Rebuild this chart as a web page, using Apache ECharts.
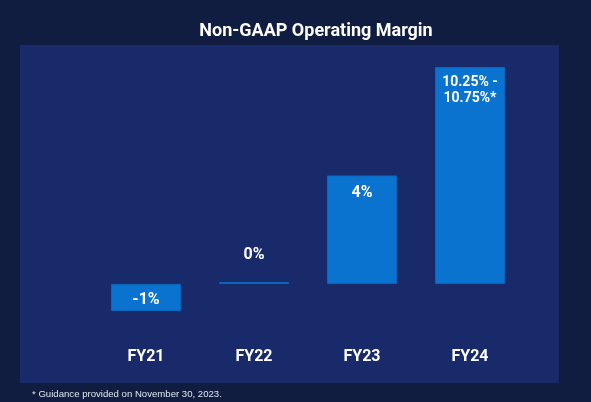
<!DOCTYPE html>
<html><head><meta charset="utf-8">
<script src="https://cdn.jsdelivr.net/npm/echarts@6/dist/echarts.min.js"></script>
<style>html,body{margin:0;padding:0;background:#101c40;}#c{width:591px;height:402px;}</style>
</head><body><div id="c"></div>
<script>
const categories = ['FY21', 'FY22', 'FY23', 'FY24'];
const values = [-1, 0.07, 4, 8];
const labels = ['-1%', '0%', '4%', '10.25% -\n10.75%*'];
const labelPositions = ['inside', 'top', 'insideTop', 'insideTop'];
const yMin = -1, yMax = 8;

const chart = echarts.init(document.getElementById('c'));
const data = values.map((v, i) => ({
  value: v,
  label: {
    show: true,
    position: labelPositions[i],
    formatter: labels[i],
    fontSize: i === 3 ? 14 : 16,
    lineHeight: 16,
    offset: i === 0 ? [0, 3] : [0, 0],
    distance: i === 1 ? 19 : (i === 3 ? 7 : 10)
  }
}));
chart.setOption({
  backgroundColor: '#101c40',
  animation: false,
  title: {
    text: 'Non-GAAP Operating Margin',
    left: 311, textAlign: 'center', top: 17,
    textStyle: { color: '#ffffff', fontSize: 18, fontWeight: 'bold', fontFamily: 'Roboto' }
  },
  graphic: [
    { type: 'rect', z: -10, shape: { x: 20, y: 45, width: 539, height: 338 }, style: { fill: '#182a69' } },
    { type: 'text', left: 32, top: 389, style: { text: '* Guidance provided on November 30, 2023.', fill: '#dfe5f0', font: '9.6px "Liberation Sans", Arial' } }
  ],
  grid: { left: 92, right: 67, top: 67, bottom: 91 },
  xAxis: {
    type: 'category', data: categories,
    axisLine: { show: false }, axisTick: { show: false },
    axisLabel: { color: '#ffffff', fontSize: 16, fontWeight: 'bold', fontFamily: 'Roboto', margin: 38 }
  },
  yAxis: { type: 'value', min: yMin, max: yMax, show: false, splitLine: { show: false } },
  series: [{
    type: 'bar', data: data, barWidth: 70,
    itemStyle: { color: '#0a73d0', borderColor: '#0b66bd', borderWidth: 1 },
    label: { color: '#ffffff', fontWeight: 'bold', fontFamily: 'Roboto' }
  }]
});
</script></body></html>
